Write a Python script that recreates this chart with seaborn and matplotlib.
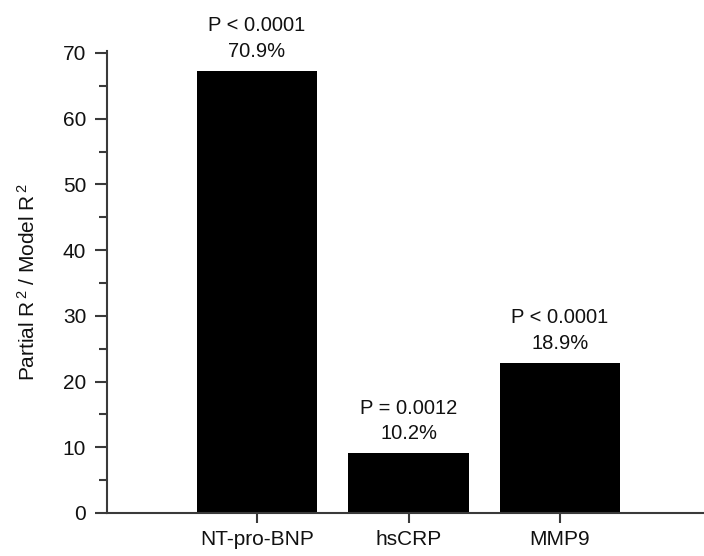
import matplotlib
matplotlib.use("Agg")
import matplotlib.pyplot as plt
import seaborn as sns
from matplotlib.ticker import MultipleLocator

markers = ["NT-pro-BNP", "hsCRP", "MMP9"]
ratio = [67.3, 9.1, 22.9]
p_text = ["P < 0.0001", "P = 0.0012", "P < 0.0001"]
pct_text = ["70.9%", "10.2%", "18.9%"]

sns.set_style("ticks")
plt.rcParams['font.family'] = ['Liberation Sans', 'DejaVu Sans']
plt.rcParams['mathtext.fontset'] = 'custom'
plt.rcParams['mathtext.rm'] = 'Liberation Sans'
plt.rcParams['mathtext.it'] = 'Liberation Sans'
axis_col = "#3a3a3a"
text_col = "#111111"

fig = plt.figure(figsize=(7.04, 5.56), dpi=100)
ax = fig.add_axes([107/704, 43/556, 600/704, 462/556])

sns.barplot(x=markers, y=ratio, color="black", width=0.795, saturation=1,
            edgecolor="none", ax=ax)

for i, v in enumerate(ratio):
    ax.annotate(p_text[i] + "\n" + pct_text[i], xy=(i, v), xytext=(0, 7),
                textcoords="offset points", ha="center", va="bottom",
                fontsize=14.5, linespacing=1.45, color=text_col)

ax.set_ylim(0, 70.3)
ax.set_xlim(-0.99, 2.97)
ax.yaxis.set_major_locator(MultipleLocator(10))
ax.yaxis.set_minor_locator(MultipleLocator(5))
ax.set_ylabel(r"Partial R$^{\,2}$ / Model R$^{\,2}$", fontsize=15, color=text_col)
ax.yaxis.set_label_coords(-0.113, 0.5)
ax.set_xlabel("")

sns.despine(ax=ax)
for s in ["left", "bottom"]:
    ax.spines[s].set_linewidth(1.5)
    ax.spines[s].set_color(axis_col)
ax.tick_params(axis="y", which="major", length=9, width=1.5, color=axis_col,
               labelsize=15, labelcolor=text_col, pad=6)
ax.tick_params(axis="y", which="minor", length=5.5, width=1.5, color=axis_col)
ax.tick_params(axis="x", length=7, width=1.5, color=axis_col, labelsize=15,
               labelcolor=text_col, pad=5)

plt.savefig("out.png", dpi=100)
plt.close()
